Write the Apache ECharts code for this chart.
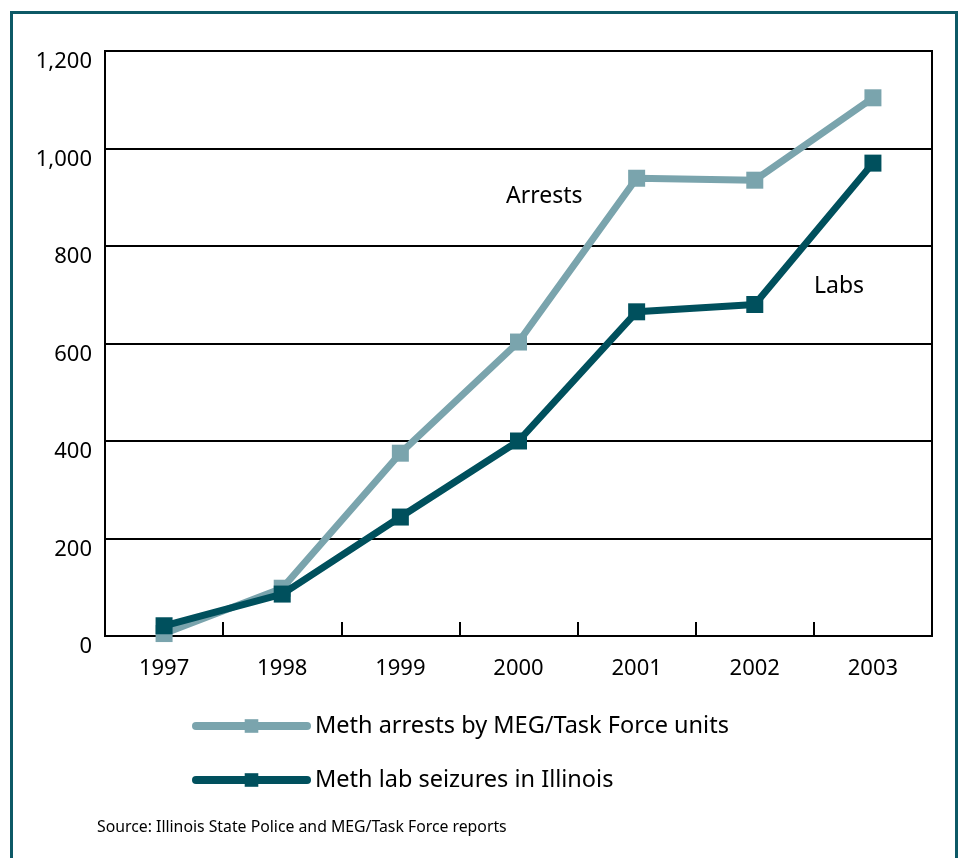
<!DOCTYPE html>
<html>
<head>
<meta charset="utf-8">
<script src="https://cdn.jsdelivr.net/npm/echarts@6/dist/echarts.min.js"></script>
<style>
html,body{margin:0;padding:0;background:#fff;}
#chart{width:961px;height:858px;}
</style>
</head>
<body>
<div id="chart"></div>
<script>
const years = ['1997','1998','1999','2000','2001','2002','2003'];
const arrests = [5, 98, 375, 603, 939, 935, 1104];
const labs = [21, 86, 244, 400, 665, 680, 970];
const yTicks = [0, 200, 400, 600, 800, 1000, 1200];
const seriesNames = ['Meth arrests by MEG/Task Force units', 'Meth lab seizures in Illinois'];
const FONT = 'Noto Sans';

const chart = echarts.init(document.getElementById('chart'), null, {renderer: 'canvas'});
const fmt = v => String(v).replace(/\B(?=(\d{3})+(?!\d))/g, ',');

chart.setOption({
  animation: false,
  backgroundColor: '#fff',
  grid: {left: 105, right: 29, top: 51, bottom: 222, show: true, borderColor: '#000', borderWidth: 2, containLabel: false},
  xAxis: {
    type: 'category', data: years, boundaryGap: true,
    axisLine: {lineStyle: {color: '#000', width: 2}},
    axisTick: {show: true, inside: true, length: 14, lineStyle: {color: '#000', width: 2}},
    axisLabel: {color: '#000', fontSize: 22, fontFamily: FONT, margin: 22}
  },
  yAxis: {
    type: 'value', min: yTicks[0], max: yTicks[yTicks.length - 1], interval: 200,
    axisLine: {show: true, lineStyle: {color: '#000', width: 2}},
    axisTick: {show: false},
    splitLine: {show: true, lineStyle: {color: '#000', width: 2}},
    axisLabel: {color: '#000', fontSize: 22, fontFamily: FONT, margin: 13, verticalAlign: 'top', formatter: fmt}
  },
  legend: {
    orient: 'vertical', left: 187, top: 709, itemWidth: 111, itemHeight: 17, itemGap: 30,
    lineStyle: {width: 8, cap: 'round'},
    textStyle: {fontSize: 23.5, fontFamily: FONT, color: '#000', padding: [0,0,0,3]},
    data: seriesNames
  },
  series: [
    {name: seriesNames[0], type: 'line', data: arrests, symbol: 'rect', symbolSize: 17,
     lineStyle: {color: '#7aa4ad', width: 7}, itemStyle: {color: '#7aa4ad'}, z: 2},
    {name: seriesNames[1], type: 'line', data: labs, symbol: 'rect', symbolSize: 17,
     lineStyle: {color: '#00505d', width: 7}, itemStyle: {color: '#00505d'}, z: 3}
  ],
  graphic: [
    {type: 'rect', shape: {x: 11.5, y: 12.5, width: 945, height: 900}, style: {fill: 'none', stroke: '#0d5966', lineWidth: 3}, z: 100},
    {type: 'text', left: 506, top: 185, style: {text: 'Arrests', fontSize: 23, fontFamily: FONT, fill: '#000'}},
    {type: 'text', left: 814, top: 275, style: {text: 'Labs', fontSize: 23, fontFamily: FONT, fill: '#000'}},
    {type: 'text', left: 97, top: 819, style: {text: 'Source: Illinois State Police and MEG/Task Force reports', fontSize: 15.8, fontFamily: FONT, fill: '#000'}}
  ]
});
</script>
</body>
</html>
